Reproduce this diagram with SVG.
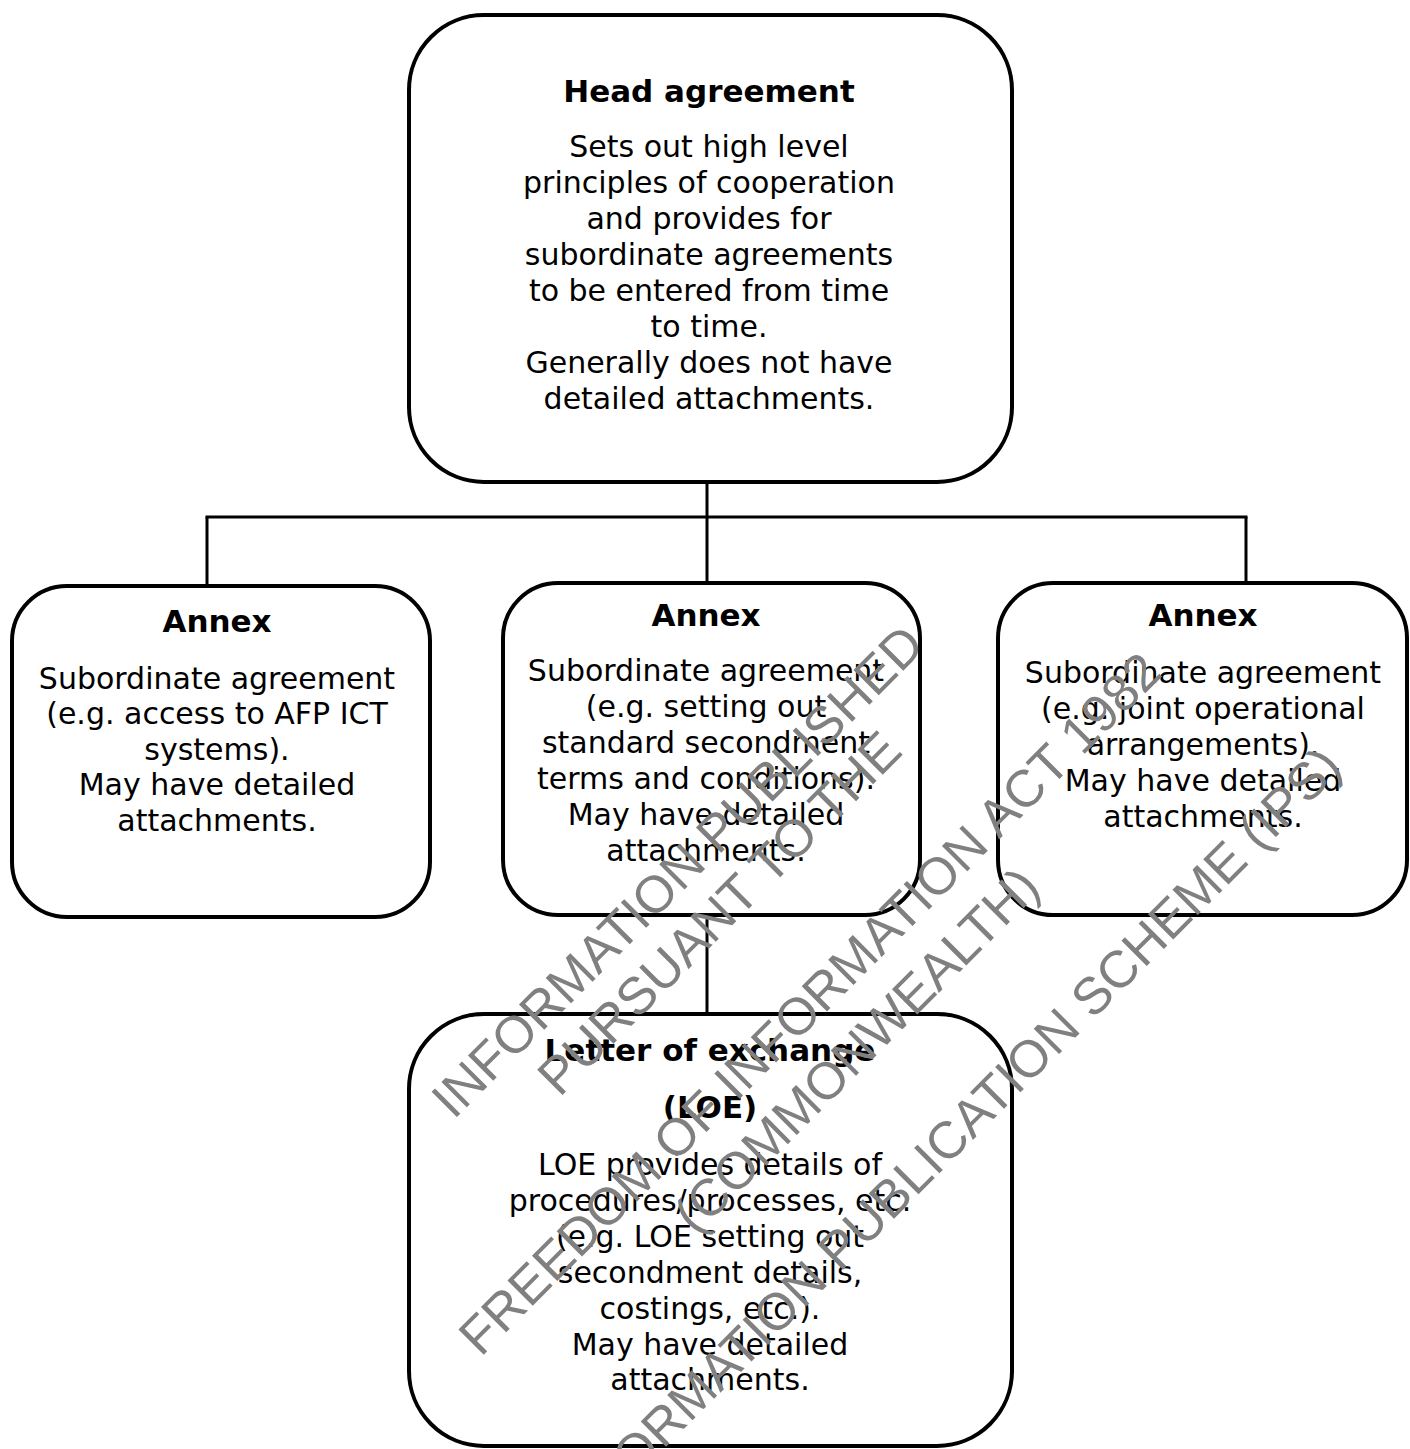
<svg xmlns="http://www.w3.org/2000/svg" width="1410" height="1449" viewBox="0 0 1410 1449">
<style>
.box{fill:#fff;stroke:#000;stroke-width:4}
.conn{stroke:#000;stroke-width:3;fill:none}
.t{font-family:"DejaVu Sans",Verdana,sans-serif;font-size:31px;font-weight:bold;fill:#000;text-anchor:middle}
.b{font-family:"DejaVu Sans",Verdana,sans-serif;font-size:30px;fill:#000;text-anchor:middle}
.wm{font-family:"Liberation Sans",Arial,sans-serif;font-size:52px;fill:#808080;text-anchor:middle}
</style>
<rect width="1410" height="1449" fill="#fff"/>
<g id="connectors">
<line class="conn" x1="707" y1="482" x2="707" y2="517"/>
<line class="conn" x1="205.5" y1="517" x2="1247.5" y2="517"/>
<line class="conn" x1="207" y1="517" x2="207" y2="585"/>
<line class="conn" x1="707" y1="517" x2="707" y2="583"/>
<line class="conn" x1="1246" y1="517" x2="1246" y2="583"/>
<line class="conn" x1="707" y1="915" x2="707" y2="1014"/>
</g>
<g id="head">
<rect class="box" x="409" y="15" width="603" height="467" rx="75" ry="75"/>
<text class="t" x="709" y="102">Head agreement</text>
<text class="b" x="709" y="157">Sets out high level</text>
<text class="b" x="709" y="193">principles of cooperation</text>
<text class="b" x="709" y="229">and provides for</text>
<text class="b" x="709" y="265">subordinate agreements</text>
<text class="b" x="709" y="301">to be entered from time</text>
<text class="b" x="709" y="337">to time.</text>
<text class="b" x="709" y="373">Generally does not have</text>
<text class="b" x="709" y="409">detailed attachments.</text>
</g>
<g id="annex-left">
<rect class="box" x="12" y="586" width="418" height="331" rx="55" ry="55"/>
<text class="t" x="217" y="632">Annex</text>
<text class="b" x="217" y="689">Subordinate agreement</text>
<text class="b" x="217" y="724">(e.g. access to AFP ICT</text>
<text class="b" x="217" y="760">systems).</text>
<text class="b" x="217" y="795">May have detailed</text>
<text class="b" x="217" y="831">attachments.</text>
</g>
<g id="annex-middle">
<rect class="box" x="503" y="583" width="417" height="332" rx="55" ry="55"/>
<text class="t" x="706" y="626">Annex</text>
<text class="b" x="706" y="681">Subordinate agreement</text>
<text class="b" x="706" y="717">(e.g. setting out</text>
<text class="b" x="706" y="753">standard secondment</text>
<text class="b" x="706" y="789">terms and conditions).</text>
<text class="b" x="706" y="825">May have detailed</text>
<text class="b" x="706" y="861">attachments.</text>
</g>
<g id="annex-right">
<rect class="box" x="998" y="583" width="409" height="332" rx="55" ry="55"/>
<text class="t" x="1203" y="626">Annex</text>
<text class="b" x="1203" y="683">Subordinate agreement</text>
<text class="b" x="1203" y="719">(e.g. joint operational</text>
<text class="b" x="1203" y="755">arrangements).</text>
<text class="b" x="1203" y="791">May have detailed</text>
<text class="b" x="1203" y="827">attachments.</text>
</g>
<g id="loe">
<rect class="box" x="409" y="1014" width="603" height="432" rx="75" ry="75"/>
<text class="t" x="710" y="1061">Letter of exchange</text>
<text class="t" x="710" y="1118">(LOE)</text>
<text class="b" x="710" y="1175">LOE provides details of</text>
<text class="b" x="710" y="1211">procedures/processes, etc.</text>
<text class="b" x="710" y="1247">(e.g. LOE setting out</text>
<text class="b" x="710" y="1283">secondment details,</text>
<text class="b" x="710" y="1319">costings, etc.).</text>
<text class="b" x="710" y="1355">May have detailed</text>
<text class="b" x="710" y="1390">attachments.</text>
</g>
<g id="watermark" transform="rotate(-45)">
<text class="wm" x="-137" y="1113">INFORMATION PUBLISHED</text>
<text class="wm" x="-137" y="1172">PURSUANT TO THE</text>
<text class="wm" x="-137" y="1300">FREEDOM OF INFORMATION ACT 1982</text>
<text class="wm" x="-137" y="1366">(COMMONWEALTH)</text>
<text class="wm" x="-137" y="1494">INFORMATION PUBLICATION SCHEME (IPS)</text>
</g>
</svg>
